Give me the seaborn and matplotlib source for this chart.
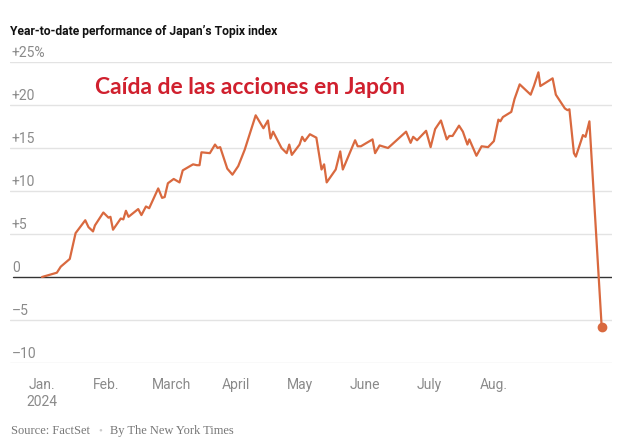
import matplotlib
matplotlib.use("Agg")
import matplotlib.pyplot as plt
import matplotlib.transforms as mtransforms
import pandas as pd
import seaborn as sns

# Datos (x en meses desde enero, y en % acumulado)
x_pos = [0.00, 0.23, 0.29, 0.43, 0.52, 0.67, 0.72, 0.79, 0.82, 0.95,
         1.03, 1.06, 1.10, 1.22, 1.26, 1.30, 1.34, 1.49, 1.54, 1.61,
         1.66, 1.80, 1.86, 1.90, 1.95, 2.04, 2.13, 2.18, 2.34, 2.40,
         2.44, 2.47, 2.60, 2.68, 2.72, 2.76, 2.87, 2.95, 3.04, 3.14,
         3.31, 3.43, 3.50, 3.54, 3.58, 3.71, 3.79, 3.83, 3.87, 3.99,
         4.03, 4.07, 4.15, 4.25, 4.33, 4.37, 4.41, 4.55, 4.62, 4.66,
         4.85, 4.89, 4.94, 5.12, 5.16, 5.23, 5.36, 5.42, 5.64, 5.71,
         5.75, 5.81, 5.95, 6.02, 6.09, 6.18, 6.27, 6.31, 6.36, 6.46,
         6.52, 6.59, 6.62, 6.73, 6.81, 6.91, 7.00, 7.07, 7.10, 7.14,
         7.27, 7.32, 7.40, 7.57, 7.62, 7.69, 7.72, 7.91, 7.96, 8.10,
         8.14, 8.17, 8.24, 8.27, 8.38, 8.42, 8.48, 8.67]

pct_change = [0.0, 0.5, 1.2, 2.1, 5.1, 6.6, 5.8, 5.3, 6.0, 7.5,
              6.9, 7.0, 5.5, 6.8, 6.7, 7.7, 7.0, 7.9, 7.2, 8.2,
              8.0, 10.3, 9.2, 9.3, 10.9, 11.4, 11.0, 12.4, 13.1, 13.0,
              13.0, 14.5, 14.4, 15.4, 15.0, 15.1, 12.6, 11.9, 12.9, 14.8,
              18.8, 17.3, 18.2, 16.1, 16.9, 15.0, 14.4, 15.4, 14.2, 15.4,
              16.3, 15.8, 16.6, 16.2, 12.5, 13.1, 11.0, 12.5, 14.6, 12.5,
              15.9, 15.2, 15.2, 16.0, 14.4, 15.3, 15.0, 15.4, 16.9, 15.6,
              16.3, 15.9, 17.0, 15.1, 17.2, 18.2, 16.0, 16.4, 16.4, 17.6,
              16.9, 15.4, 16.0, 14.1, 15.2, 15.1, 15.8, 18.3, 18.1, 18.6,
              19.2, 20.7, 22.4, 21.2, 22.2, 23.8, 22.2, 23.1, 21.2, 19.6,
              19.4, 19.5, 14.4, 14.0, 16.5, 16.3, 18.1, -5.8]

month_ticks = [0, 1, 2, 3, 4, 5, 6, 7]
month_labels = ["Jan.\n2024", "Feb.", "March", "April", "May", "June", "July", "Aug."]
y_ticks = [25, 20, 15, 10, 5, 0, -5, -10]
y_labels = ["+25%", "+20", "+15", "+10", "+5", "0", "\u20135", "\u201310"]

df = pd.DataFrame({"x": x_pos, "pct": pct_change})

sns.set_style("white")
plt.rcParams['font.family'] = ['Roboto', 'DejaVu Sans']

line_color = "#d9693f"
grid_color = "#e3e3e3"
label_color = "#8a8a8a"

fig = plt.figure(figsize=(6.25, 4.45), dpi=100)
ax = fig.add_axes([10 / 625, 1 - 363 / 445, 602 / 625, 301 / 445])

# Líneas de la cuadrícula
for v in y_ticks:
    if v == 0:
        ax.axhline(v, xmin=3 / 602, color="#333333", lw=1.0, zorder=2)
    else:
        ax.axhline(v, color=grid_color, lw=1.0, zorder=1)

sns.lineplot(data=df, x="x", y="pct", sort=False, color=line_color,
             linewidth=1.6, ax=ax, zorder=3)
ax.plot(x_pos[-1], pct_change[-1], "o", color=line_color, ms=6, zorder=4)

ax.set_xlim(-0.496, 8.83)
ax.set_ylim(-10, 25)

for s in ax.spines.values():
    s.set_visible(False)

ax.set_yticks([])
ax.set_xticks(month_ticks)
ax.set_xticklabels(month_labels, fontsize=10, color=label_color, linespacing=1.25)
ax.tick_params(axis="x", length=5, width=1, color="#aaaaaa", pad=6)
ax.set_xlabel("")
ax.set_ylabel("")

# Etiquetas del eje y encima de las líneas
trans = mtransforms.blended_transform_factory(ax.transAxes, ax.transData)
for v, lab in zip(y_ticks, y_labels):
    ax.annotate(lab, xy=(0.003, v), xycoords=trans, xytext=(0, 1.5),
                textcoords="offset points", ha="left", va="bottom",
                fontsize=10, color=label_color)

fig.text(10 / 625, 1 - 31 / 445, "Year-to-date performance of Japan\u2019s Topix index",
         fontsize=8.7, fontweight="bold", color="#121212", ha="left", va="center")

fig.text(95 / 625, 1 - 88 / 445, "Caída de las acciones en Japón",
         fontsize=16.5, fontweight="bold", color="#d0202e", ha="left", va="center",
         family=["Lato", "DejaVu Sans"])

fig.text(11 / 625, 1 - 431 / 445, "Source: FactSet", fontsize=9, color="#777777",
         ha="left", va="center", family=["Liberation Serif", "DejaVu Serif"])
fig.text(100 / 625, 1 - 431 / 445, "\u2022", fontsize=8, color="#cccccc",
         ha="center", va="center", family=["Liberation Serif", "DejaVu Serif"])
fig.text(110 / 625, 1 - 431 / 445, "By The New York Times", fontsize=9, color="#777777",
         ha="left", va="center", family=["Liberation Serif", "DejaVu Serif"])

fig.savefig("out.png", dpi=100)
